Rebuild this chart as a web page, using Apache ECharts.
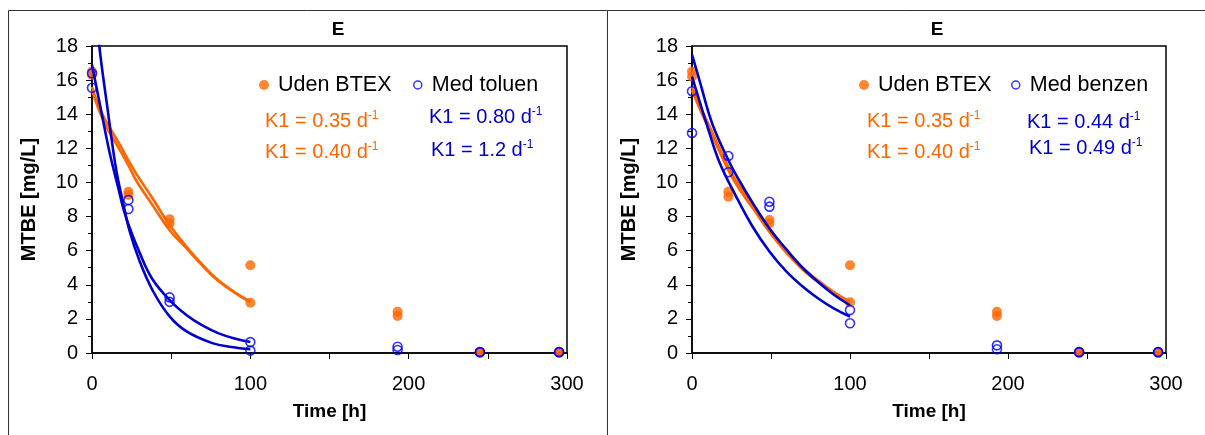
<!DOCTYPE html>
<html><head><meta charset="utf-8">
<script src="https://cdn.jsdelivr.net/npm/echarts@6/dist/echarts.min.js"></script>
<style>html,body{margin:0;padding:0;background:#fff}#c{width:1205px;height:435px}</style>
</head><body><div id="c"></div>
<script>
// ---- data (time in hours, MTBE in mg/L) ----
const times = [0, 23, 49, 100, 193, 245, 295];

// Left panel: "Uden BTEX" (two replicates) and "Med toluen" (two replicates)
const udenLeftA = [16.5, 9.45, 7.84, 5.14, 2.42, 0.05, 0.05];
const udenLeftB = [16.3, 9.26, 7.60, 2.95, 2.17, 0.05, 0.05];
const toluenA   = [16.4, 8.97, 3.26, 0.64, 0.37, 0.05, 0.05];
const toluenB   = [15.55, 8.44, 3.00, 0.14, 0.18, 0.05, 0.05];

// Right panel: "Uden BTEX" and "Med benzen"
const udenRightA = [16.5, 9.46, 7.80, 5.14, 2.42, 0.05, 0.05];
const udenRightB = [16.2, 9.16, 7.60, 2.97, 2.17, 0.05, 0.05];
const benzenA    = [15.35, 11.55, 8.87, 2.52, 0.45, 0.05, 0.05];
const benzenB    = [12.9, 10.6, 8.58, 1.74, 0.22, 0.05, 0.05];

// Fitted first-order curves
const fitLeftOrange035 = [[0,15.6],[5,14.3],[10,13.4],[17,12.3],[23,11.3],[28,10.5],[38,9.1],[49,7.5],[60,6.2],[70,5.15],[80,4.25],[91,3.5],[100,3.0]];
const fitLeftOrange040 = [[0,15.4],[5,14.1],[10,13.1],[17,12.0],[23,11.0],[28,10.1],[38,8.7],[49,7.2],[60,6.1],[70,5.1],[80,4.2],[91,3.5],[100,3.0]];
const fitToluen080 = [[0,16.9],[6,14.1],[11,11.8],[16,9.9],[21.5,7.95],[30,5.9],[38,4.35],[49,3.1],[60,2.2],[70,1.6],[80,1.15],[90,0.85],[100,0.65]];
const fitToluen12  = [[0,22.4],[4.6,18],[10,14.2],[15,10.9],[19.4,8.9],[23.6,7.2],[30,5.4],[38.4,3.65],[49,2.15],[60,1.25],[76,0.58],[88,0.35],[100,0.22]];

const fitRightOrange035 = [[0,15.6],[5,14.5],[13,12.9],[23.6,10.8],[30,9.8],[38.4,8.7],[49,7.3],[59.5,6.05],[70,5.0],[80.6,4.2],[90,3.55],[100,3.0]];
const fitRightOrange040 = [[0,15.4],[5,14.3],[13,12.7],[23.6,10.6],[30,9.6],[38.4,8.5],[49,7.1],[59.5,5.9],[70,4.9],[80.6,4.1],[90,3.5],[100,3.0]];
const fitBenzen044 = [[0,17.5],[5,15.9],[13,13.4],[23.6,11.2],[30,10.1],[38.4,8.8],[49,7.3],[59.5,6.1],[70,5.0],[80.6,4.1],[90,3.4],[100,2.8]];
const fitBenzen049 = [[0,16.2],[5,14.7],[9,13.5],[17.3,11.2],[27.8,9.2],[38.4,7.4],[49,5.95],[59.5,4.8],[70,3.9],[80.6,3.15],[90,2.6],[100,2.13]];

const panelTitle = 'E';
const yName = 'MTBE [mg/L]';
const xName = 'Time [h]';
const k1Left = {orange: ['0.35', '0.40'], blue: ['0.80', '1.2']};
const k1Right = {orange: ['0.35', '0.40'], blue: ['0.44', '0.49']};

// ---- styling ----
const ORANGE = '#FF6600';
const BLUE = '#0000CC';
const BLUE_PT = '#0000FF';
const FONT = 'Arial, "Liberation Sans", sans-serif';

function pairs(vals) { return times.map((t, i) => [t, vals[i]]); }

function xAxis(gi) {
  return {
    type: 'value', gridIndex: gi, min: 0, max: 300, interval: 100,
    name: xName, nameLocation: 'middle', nameGap: 49,
    nameTextStyle: {fontFamily: FONT, fontWeight: 'bold', fontSize: 19, color: '#000'},
    axisLine: {show: true, lineStyle: {color: '#000', width: 1.5}},
    axisTick: {show: true, inside: false, length: 6, lineStyle: {color: '#000', width: 1}},
    minorTick: {show: true, splitNumber: 2, length: 6, lineStyle: {color: '#000', width: 1}},
    axisLabel: {fontFamily: FONT, fontSize: 20, color: '#000', margin: 21},
    splitLine: {show: false}, minorSplitLine: {show: false}
  };
}
function yAxis(gi) {
  return {
    type: 'value', gridIndex: gi, min: 0, max: 18, interval: 2,
    name: yName, nameLocation: 'middle', nameGap: 53,
    nameTextStyle: {fontFamily: FONT, fontWeight: 'bold', fontSize: 20, color: '#000'},
    axisLine: {show: true, lineStyle: {color: '#000', width: 1.5}},
    axisTick: {show: true, inside: false, length: 6, lineStyle: {color: '#000', width: 1}},
    minorTick: {show: true, splitNumber: 2, length: 4, lineStyle: {color: '#000', width: 1}},
    axisLabel: {fontFamily: FONT, fontSize: 20, color: '#000', margin: 14},
    splitLine: {show: false}, minorSplitLine: {show: false}
  };
}
function fitLine(name, gi, data, color) {
  return {
    type: 'line', name: name, xAxisIndex: gi, yAxisIndex: gi, data: data,
    smooth: 0.4, showSymbol: false, symbol: 'none', clip: true, z: 3,
    lineStyle: {color: color, width: 2.6}, silent: true
  };
}
function scatterOrange(name, gi, a, b) {
  return {
    type: 'scatter', name: name, xAxisIndex: gi, yAxisIndex: gi,
    data: pairs(a).concat(pairs(b)), symbol: 'circle', symbolSize: 10, z: 2,
    itemStyle: {color: ORANGE}
  };
}
function scatterBlue(name, gi, a, b) {
  return {
    type: 'scatter', name: name, xAxisIndex: gi, yAxisIndex: gi,
    data: pairs(a).concat(pairs(b)), symbol: 'circle', symbolSize: 9, z: 4,
    itemStyle: {color: 'rgba(255,255,255,0)', borderColor: BLUE_PT, borderWidth: 1.6}
  };
}
function k1Text(x, y, val, color) {
  return {
    type: 'text', x: x, y: y, silent: true,
    style: {
      text: '{a|K1 = ' + val + ' d}{s|-1}',
      fill: color, textVerticalAlign: 'middle',
      rich: {
        a: {fontFamily: FONT, fontSize: 20, color: color, lineHeight: 22},
        s: {fontFamily: FONT, fontSize: 12, color: color, verticalAlign: 'top', lineHeight: 22, padding: [0, 0, 10, 0]}
      }
    }
  };
}
function legendItem(left, name, isBlue) {
  return {
    left: left, top: 69, orient: 'horizontal', itemWidth: 18, itemHeight: isBlue ? 8 : 10,
    selectedMode: false, itemGap: 0,
    textStyle: {fontFamily: FONT, fontSize: 21.5, color: '#000'},
    data: [isBlue
      ? {name: name, icon: 'circle', itemStyle: {color: 'rgba(255,255,255,0)', borderColor: BLUE_PT, borderWidth: 1.5}}
      : {name: name, icon: 'circle', itemStyle: {color: ORANGE}}]
  };
}

const chart = echarts.init(document.getElementById('c'), null, {renderer: 'canvas'});
chart.setOption({
  animation: false,
  backgroundColor: '#fff',
  title: [
    {text: panelTitle, left: 333, top: 15, textAlign: 'center', textStyle: {fontFamily: FONT, fontWeight: 'bold', fontSize: 19, color: '#000'}},
    {text: panelTitle, left: 932, top: 15, textAlign: 'center', textStyle: {fontFamily: FONT, fontWeight: 'bold', fontSize: 19, color: '#000'}}
  ],
  legend: [
    legendItem(254, 'Uden BTEX', false),
    legendItem(408, 'Med toluen', true),
    legendItem(854, 'Uden BTEX', false),
    legendItem(1006, 'Med benzen', true)
  ],
  grid: [
    {left: 92, top: 46, width: 475, height: 307, show: true, borderColor: '#000', borderWidth: 1.5, backgroundColor: 'transparent', containLabel: false},
    {left: 692, top: 46, width: 474, height: 307, show: true, borderColor: '#000', borderWidth: 1.5, backgroundColor: 'transparent', containLabel: false}
  ],
  xAxis: [xAxis(0), xAxis(1)],
  yAxis: [yAxis(0), yAxis(1)],
  series: [
    scatterOrange('Uden BTEX', 0, udenLeftA, udenLeftB),
    fitLine('K1 0.35 (uden, venstre)', 0, fitLeftOrange035, ORANGE),
    fitLine('K1 0.40 (uden, venstre)', 0, fitLeftOrange040, ORANGE),
    fitLine('K1 0.80 (toluen)', 0, fitToluen080, BLUE),
    fitLine('K1 1.2 (toluen)', 0, fitToluen12, BLUE),
    scatterBlue('Med toluen', 0, toluenA, toluenB),
    scatterOrange('Uden BTEX', 1, udenRightA, udenRightB),
    fitLine('K1 0.35 (uden, højre)', 1, fitRightOrange035, ORANGE),
    fitLine('K1 0.40 (uden, højre)', 1, fitRightOrange040, ORANGE),
    fitLine('K1 0.44 (benzen)', 1, fitBenzen044, BLUE),
    fitLine('K1 0.49 (benzen)', 1, fitBenzen049, BLUE),
    scatterBlue('Med benzen', 1, benzenA, benzenB)
  ],
  graphic: [
    {type: 'line', silent: true, shape: {x1: 8.5, y1: 10.5, x2: 1205, y2: 10.5}, style: {stroke: '#333', lineWidth: 1}},
    {type: 'line', silent: true, shape: {x1: 8.5, y1: 10.5, x2: 8.5, y2: 435}, style: {stroke: '#333', lineWidth: 1}},
    {type: 'line', silent: true, shape: {x1: 607.5, y1: 10.5, x2: 607.5, y2: 435}, style: {stroke: '#333', lineWidth: 1}},
    k1Text(265, 121, k1Left.orange[0], ORANGE),
    k1Text(265, 152, k1Left.orange[1], ORANGE),
    k1Text(429, 117, k1Left.blue[0], BLUE),
    k1Text(431, 150, k1Left.blue[1], BLUE),
    k1Text(867, 121, k1Right.orange[0], ORANGE),
    k1Text(867, 152, k1Right.orange[1], ORANGE),
    k1Text(1027, 122, k1Right.blue[0], BLUE),
    k1Text(1029, 148, k1Right.blue[1], BLUE)
  ]
});
</script>
</body></html>
